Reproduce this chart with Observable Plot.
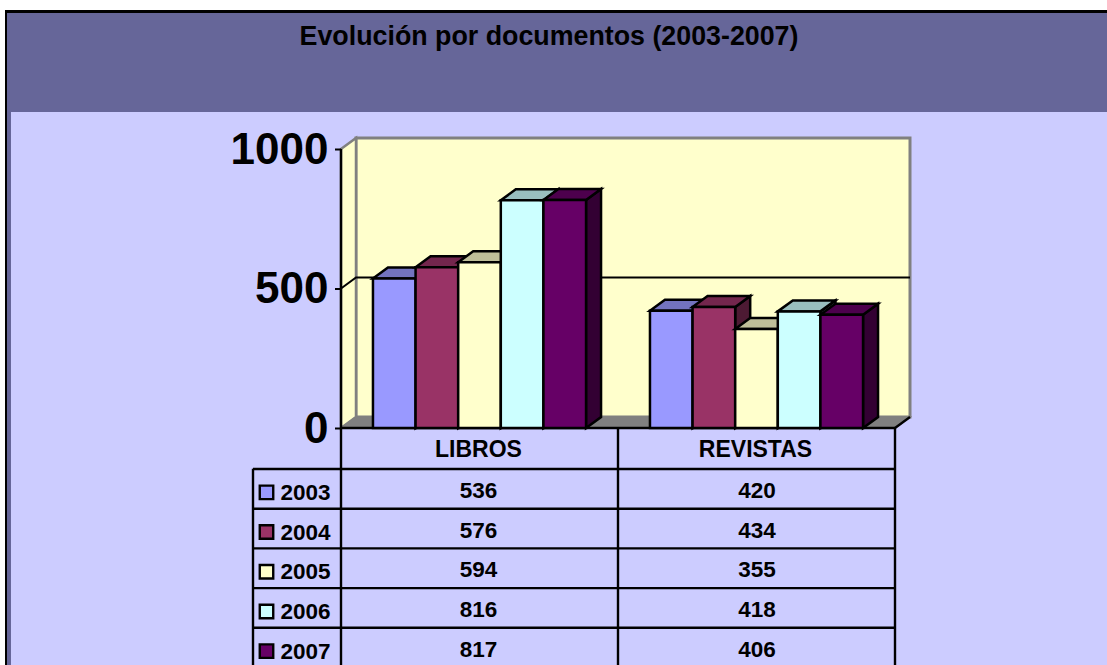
<!DOCTYPE html>
<html lang="es">
<head>
<meta charset="utf-8">
<script src="https://cdn.jsdelivr.net/npm/d3@7"></script>
<script src="https://cdn.jsdelivr.net/npm/@observablehq/plot@0.6"></script>
<style>
  html, body { margin: 0; padding: 0; background: #fff; }
  #page { position: relative; width: 1107px; height: 665px; overflow: hidden; font-family: "Liberation Sans", Arial, sans-serif; }
  #sheet { position: absolute; left: 5px; top: 10px; right: -4px; bottom: -4px; background: #666699; border-left: 2px solid #000; border-top: 3px solid #000; }
  #body { position: absolute; left: 11px; top: 112px; right: 0; bottom: 0; background: #CCCCFF; }
  #title { position: absolute; left: 0; width: 1098px; top: 21px; text-align: center; font-weight: bold; font-size: 26.8px; line-height: 30px; color: #000; }
  #chart, #table { position: absolute; left: 0; }
  #chart { top: 112px; }
  #table { top: 428px; }
  svg { display: block; background: transparent; }
</style>
</head>
<body>
<div id="page">
  <div id="sheet"></div>
  <div id="body"></div>
  <div id="title">Evolución por documentos (2003-2007)</div>
  <div id="chart"></div>
  <div id="table"></div>
</div>
<script>
const categories = ["LIBROS", "REVISTAS"];
const years = ["2003", "2004", "2005", "2006", "2007"];
const libros = [536, 576, 594, 816, 817];
const revistas = [420, 434, 355, 418, 406];
const colors = ["#9999FF", "#993366", "#FFFFCC", "#CCFFFF", "#660066"];
const yTicks = [0, 500, 1000];
const headerRow = " ";

const rows = [
  ...years.map((year, i) => ({category: categories[0], year, value: libros[i]})),
  ...years.map((year, i) => ({category: categories[1], year, value: revistas[i]}))
];

const fontFamily = '"Liberation Sans", Arial, sans-serif';
const depthX = 15, depthY = 11;
const shade = (c, k) => { const r = d3.rgb(c); return d3.rgb(r.r * k, r.g * k, r.b * k).formatHex(); };
const poly = (g, pts, fill, stroke, sw) => g.append("polygon")
  .attr("points", pts.map(p => p.join(",")).join(" "))
  .attr("fill", fill).attr("stroke", stroke).attr("stroke-width", sw).attr("stroke-linejoin", "miter");

// The walls and floor of the 3D box, placed by the y scale and the plot frame
function box(index, {y}, values, {width, marginLeft, marginRight}) {
  const g = d3.create("svg:g");
  const l = marginLeft, r = width - marginRight;
  const y0 = y(0), yT = y(1000);
  poly(g, [[l + depthX, yT - depthY], [r + depthX, yT - depthY], [r + depthX, y0 - depthY], [l + depthX, y0 - depthY]], "#FFFFCC", "#808080", 3);
  poly(g, [[l, yT], [l + depthX, yT - depthY], [l + depthX, y0 - depthY], [l, y0]], "#FFFFCC", "#808080", 2.5);
  poly(g, [[l, y0], [l + depthX, y0 - depthY], [r + depthX, y0 - depthY], [r, y0]], "#808080", "#808080", 1.5);
  for (const t of yTicks.slice(1, -1)) {
    g.append("polyline")
      .attr("points", [[l, y(t)], [l + depthX, y(t) - depthY], [r + depthX, y(t) - depthY]].map(p => p.join(",")).join(" "))
      .attr("fill", "none").attr("stroke", "#000").attr("stroke-width", 2);
  }
  g.append("line").attr("x1", r).attr("y1", y0).attr("x2", r + depthX).attr("y2", y0 - depthY).attr("stroke", "#000").attr("stroke-width", 2.4);
  g.append("line").attr("x1", l).attr("y1", y0).attr("x2", r).attr("y2", y0).attr("stroke", "#000").attr("stroke-width", 2.4);
  g.append("line").attr("x1", l).attr("y1", y0).attr("x2", l).attr("y2", yT).attr("stroke", "#000").attr("stroke-width", 2.4);
  return g.node();
}

// Bars painted left to right: side, top, front
function bar3d(index, scales, values) {
  const g = d3.create("svg:g");
  const bw = scales.x.bandwidth();
  for (const i of index) {
    const x0 = values.x[i], x1 = x0 + bw;
    const top = Math.min(values.y1[i], values.y2[i]), base = Math.max(values.y1[i], values.y2[i]);
    const fill = values.fill[i];
    poly(g, [[x1, top], [x1 + depthX, top - depthY], [x1 + depthX, base - depthY], [x1, base]], shade(fill, 0.5), "#000", 2.5);
    poly(g, [[x0, top], [x0 + depthX, top - depthY], [x1 + depthX, top - depthY], [x1, top]], shade(fill, 0.75), "#000", 2.5);
    poly(g, [[x0, top], [x1, top], [x1, base], [x0, base]], fill, "#000", 2.5);
  }
  return g.node();
}

const chart = Plot.plot({
  width: 1107, height: 317,
  marginLeft: 341, marginRight: 212, marginTop: 0, marginBottom: 0,
  style: {background: "transparent", fontFamily, overflow: "visible"},
  fx: {domain: categories, padding: 0, round: false, axis: null, label: null},
  x: {domain: years, paddingInner: 0, paddingOuter: 0.75, round: false, axis: null, label: null},
  y: {domain: [0, 1000], range: [316, 37], axis: null, label: null},
  color: {type: "ordinal", domain: years, range: colors},
  marks: [
    Plot.frame({facet: "super", stroke: "none", render: box}),
    Plot.barY(rows, {fx: "category", x: "year", y: "value", fill: "year", render: bar3d}),
    Plot.axisY({anchor: "left", ticks: yTicks, tickFormat: d => String(d), tickSize: 6, tickPadding: 7, strokeWidth: 2, fill: "#000", stroke: "#000", fontSize: 44, fontWeight: "bold", label: null})
  ]
});
document.getElementById("chart").append(chart);

const rowNames = [headerRow, ...years];
const rowStep = 39.7;
const lineWidth = 2.4;
const valueText = {x: "category", y: "year", text: d => String(d.value), fontSize: 22.5, fontWeight: "bold", fill: "#000", dy: 2};
const table = Plot.plot({
  width: 1107, height: 237,
  marginLeft: 341, marginRight: 212, marginTop: 0, marginBottom: 0,
  style: {background: "transparent", fontFamily, overflow: "hidden"},
  x: {type: "band", domain: categories, padding: 0, round: false, axis: null, label: null},
  y: {type: "band", domain: rowNames, range: [0.8, 239], padding: 0, round: false, axis: null, label: null},
  color: {type: "ordinal", domain: years, range: colors},
  marks: [
    Plot.ruleY(rowNames, {y: d => d, dy: rowStep / 2, insetLeft: -88, stroke: "#000", strokeWidth: lineWidth}),
    Plot.ruleX(categories, {x: d => d, dx: -139, stroke: "#000", strokeWidth: lineWidth}),
    Plot.ruleX(categories.slice(-1), {x: d => d, dx: 138, stroke: "#000", strokeWidth: lineWidth}),
    Plot.ruleX(categories.slice(0, 1), {x: d => d, dx: -227, insetTop: rowStep + 1, stroke: "#000", strokeWidth: lineWidth}),
    Plot.text(categories, {x: d => d, y: () => headerRow, text: d => d, fontSize: 23, fontWeight: "bold", fill: "#000", dx: -1.5}),
    Plot.text(rows.filter(d => d.category === categories[0]), {...valueText, dx: -1.5}),
    Plot.text(rows.filter(d => d.category === categories[1]), {...valueText, dx: 0}),
    Plot.dot(years, {y: d => d, frameAnchor: "left", dx: -75, dy: 3.5, symbol: "square", r: 7.6, fill: d => d, stroke: "#000", strokeWidth: lineWidth}),
    Plot.text(years, {y: d => d, text: d => d, frameAnchor: "left", dx: -61, dy: 4, textAnchor: "start", fontSize: 22.5, fontWeight: "bold", fill: "#000"})
  ]
});
document.getElementById("table").append(table);
</script>
</body>
</html>
